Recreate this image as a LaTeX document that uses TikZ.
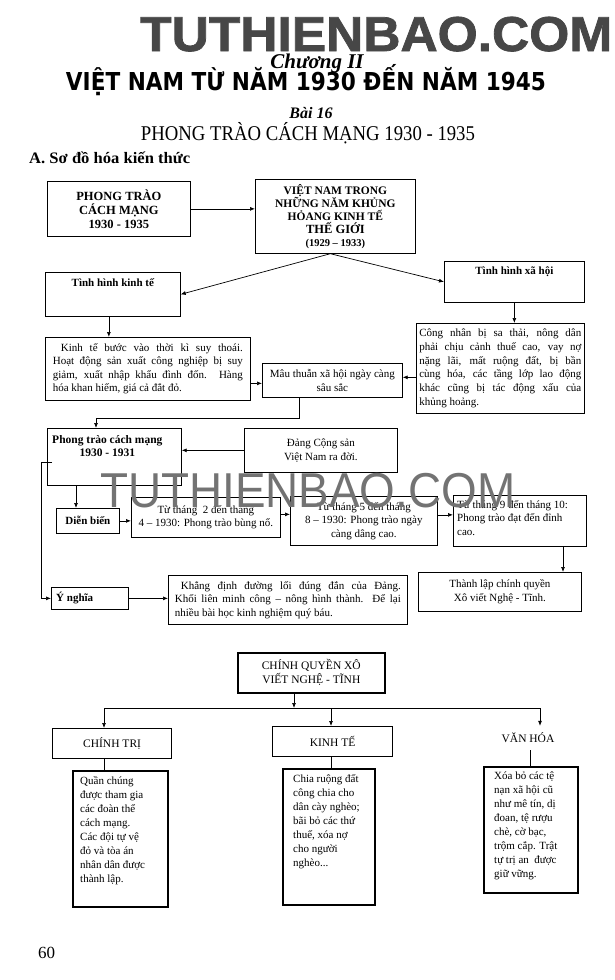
\documentclass[tikz,border=0pt]{standalone}
\usepackage{fontspec}
\setmainfont{Liberation Serif}
\newfontfamily\wmfont{Liberation Sans}[BoldFeatures={FakeBold=1.5}]
\newfontfamily\dispfont{DejaVu Sans}
\usetikzlibrary{arrows.meta,calc}
\newcommand\fitw[2]{\resizebox{#1}{\height}{#2}}
\newcommand\jl[2]{\makebox[#1][s]{#2}}
\begin{document}
\begin{tikzpicture}[x=1pt,y=-1pt,
 bx/.style={draw, line width=0.7pt, inner sep=0pt, anchor=north west, align=center, font=\fontsize{11}{13.5}\selectfont},
 tbx/.style={bx, line width=1.6pt},
 txt/.style={inner sep=0pt, font=\fontsize{11}{13.5}\selectfont},
 btxt/.style={inner sep=0pt, font=\bfseries\fontsize{11}{13.5}\selectfont},
 arr/.style={draw, line width=0.7pt, -{Latex[length=5pt,width=4pt]}},
 ln/.style={draw, line width=0.7pt},
 hd/.style={inner sep=0pt, anchor=base}
]
\useasboundingbox (0,0) rectangle (615,980);

% ---------- header ----------
\node[hd] (chuong) at (317,68) {\fontsize{21}{21}\selectfont\bfseries\itshape Chương II};
\node[hd, anchor=base west, text=black!72] (wm1) at (140,51) {\fitw{472pt}{\wmfont\bfseries\fontsize{49}{49}\selectfont TUTHIENBAO.COM}};
\node[hd] (title) at (306,90) {\fitw{480pt}{\dispfont\bfseries\fontsize{24.7}{25}\selectfont VIỆT NAM TỪ NĂM 1930 ĐẾN NĂM 1945}};
\node[hd] (bai) at (311,118) {\fontsize{16}{16}\selectfont\bfseries\itshape Bài 16};
\node[hd] (ptitle) at (308,140) {\fitw{334pt}{\fontsize{21}{21}\selectfont PHONG TRÀO CÁCH MẠNG 1930 - 1935}};
\node[hd, anchor=base west] (sec) at (29,163) {\fitw{161pt}{\fontsize{16}{16}\selectfont\bfseries A. Sơ đồ hóa kiến thức}};

% ---------- upper diagram ----------
\node[bx, minimum width=143, minimum height=55, font=\bfseries\fontsize{12.5}{14}\selectfont] (b1) at (47,181) {PHONG TRÀO\\CÁCH MẠNG\\1930 - 1935};
\node[bx, minimum width=160, minimum height=74, font=\bfseries\fontsize{11.5}{13}\selectfont] (b2) at (255,179) {VIỆT NAM TRONG\\NHỮNG NĂM KHỦNG\\HỎANG KINH TẾ\\{\fontsize{12.5}{13}\selectfont THẾ GIỚI}\\{\fontsize{10.5}{13}\selectfont (1929 – 1933)}};

\node[bx, minimum width=135, minimum height=44] (kt) at (45,272) {};
\node[btxt, anchor=north] (ktl) at ([yshift=-6]kt.north) {Tình hình kinh tế};
\node[bx, minimum width=140, minimum height=41] (xh) at (444,261) {};
\node[btxt, anchor=north] (xhl) at ([yshift=-6]xh.north) {Tình hình xã hội};

\node[bx, minimum width=205, minimum height=63, align=left] (ktb) at (45,337) {\hspace*{8pt}\jl{182pt}{Kinh tế bước vào thời kì suy thoái.}\\\jl{190pt}{Hoạt động sản xuất công nghiệp bị suy}\\\jl{190pt}{giảm, xuất nhập khẩu đình đốn. Hàng}\\hóa khan hiếm, giá cả đắt đỏ.};
\node[bx, minimum width=140, minimum height=34] (mt) at (262,363) {Mâu thuẫn xã hội ngày càng\\sâu sắc};
\node[bx, minimum width=168, minimum height=90, align=left, font=\fontsize{11}{13.7}\selectfont] (cn) at (416,323) {\jl{162pt}{Công nhân bị sa thải, nông dân}\\\jl{162pt}{phải chịu cảnh thuế cao, vay nợ}\\\jl{162pt}{nặng lãi, mất ruộng đất, bị bần}\\\jl{162pt}{cùng hóa, các tầng lớp lao động}\\\jl{162pt}{khác cũng bị tác động xấu của}\\khủng hoảng.};

\node[bx, minimum width=134, minimum height=57] (pt) at (47,428) {};
\node[btxt, anchor=north, align=center, font=\bfseries\fontsize{11.5}{13.5}\selectfont] (ptl) at ([xshift=-7,yshift=-7]pt.north) {Phong trào cách mạng\\1930 - 1931};
\node[bx, minimum width=153, minimum height=44] (dang) at (244,428) {Đảng Cộng sản\\Việt Nam ra đời.};
\node[bx, minimum width=63, minimum height=25, font=\bfseries\fontsize{11}{13}\selectfont] (db) at (56,508) {Diễn biến};
\node[bx, minimum width=149, minimum height=40] (t2) at (131,497) {Từ tháng \ 2 đến tháng\\4 – 1930: Phong trào bùng nổ.};
\node[bx, minimum width=147, minimum height=49] (t5) at (290,496) {Từ tháng 5 đến tháng\\8 – 1930: Phong trào ngày\\càng dâng cao.};
\node[bx, minimum width=133, minimum height=51] (t9) at (453,495) {};
\node[txt, anchor=north west, align=left] (t9l) at ([xshift=4,yshift=-5]t9.north west) {Từ tháng 9 đến tháng 10:\\Phong trào đạt đến đỉnh\\cao.};

\node[bx, minimum width=77, minimum height=22] (yn) at (51,587) {};
\node[btxt, anchor=west] (ynl) at ([xshift=5]yn.west) {Ý nghĩa};
\node[bx, minimum width=239, minimum height=49, align=left] (kd) at (168,575) {\hspace*{6pt}\jl{220pt}{Khẳng định đường lối đúng đắn của Đảng.}\\\jl{226pt}{Khối liên minh công – nông hình thành. Để lại}\\nhiều bài học kinh nghiệm quý báu.};
\node[bx, minimum width=163, minimum height=39] (tl) at (418,572) {Thành lập chính quyền\\Xô viết Nghệ - Tĩnh.};

% connectors upper
\draw[arr] (b1.east) -- (b1.east -| b2.west);
\draw[arr] ([xshift=-5]b2.south) -- (kt.east);
\draw[arr] ([xshift=-5]b2.south) -- (xh.west);
\draw[arr] ([xshift=-4]kt.south) -- ([xshift=-4]kt.south |- ktb.north);
\draw[arr] (xh.south) -- (xh.south |- cn.north);
\draw[arr] ([yshift=-3]mt.west -| ktb.east) -- ([yshift=-3]mt.west);
\draw[arr] ([yshift=3]mt.east -| cn.west) -- ([yshift=3]mt.east);
\coordinate (j1) at (299,418);
\coordinate (j2) at (96,418);
\draw[arr] (mt.south -| j1) -- (j1) -- (j2) -- (j2 |- pt.north);
\draw[arr] (dang.west) -- (dang.west -| pt.east);
\coordinate (c1) at (76,495);
\draw[arr] (c1 |- pt.south) -- (c1 |- db.north);
\draw[arr] (db.east) -- (db.east -| t2.west);
\draw[arr] ([yshift=3]t2.east) -- ([yshift=3]t2.east -| t5.west);
\draw[arr] ([yshift=6]t5.east) -- ([yshift=6]t5.east -| t9.west);
\coordinate (c2) at (563,560);
\draw[arr] (c2 |- t9.south) -- (c2 |- tl.north);
\coordinate (c3s) at (52,462);
\coordinate (c3) at (41,462);
\draw[arr] (c3s) -- (c3) -- (c3 |- yn.west) -- (yn.west);
\draw[arr] (yn.east) -- (yn.east -| kd.west);

% ---------- lower diagram ----------
\node[tbx, minimum width=147, minimum height=40, font=\fontsize{11.5}{14}\selectfont] (cq) at (237,652) {CHÍNH QUYỀN XÔ\\VIẾT NGHỆ - TĨNH};
\node[bx, line width=1.2pt, minimum width=119, minimum height=30, font=\fontsize{11.5}{13}\selectfont] (ct) at (52,728) {CHÍNH TRỊ};
\node[bx, line width=1.2pt, minimum width=120, minimum height=30, font=\fontsize{11.5}{13}\selectfont] (ke) at (272,726) {KINH TẾ};
\node[inner sep=0pt, minimum height=24, font=\fontsize{11.5}{13}\selectfont] (vh) at (528,738) {VĂN HÓA};

\node[tbx, minimum width=95, minimum height=136] (cb1) at (72,770) {};
\node[txt, anchor=north west, align=left, font=\fontsize{11}{14}\selectfont] (cb1l) at ([xshift=8,yshift=-6]cb1.north west) {Quần chúng\\được tham gia\\các đoàn thể\\cách mạng.\\Các đội tự vệ\\đỏ và tòa án\\nhân dân được\\thành lập.};
\node[tbx, minimum width=92, minimum height=136] (cb2) at (282,768) {};
\node[txt, anchor=north west, align=left, font=\fontsize{11}{14}\selectfont] (cb2l) at ([xshift=11,yshift=-6]cb2.north west) {Chia ruộng đất\\công chia cho\\dân cày nghèo;\\bãi bỏ các thứ\\thuế, xóa nợ\\cho người\\nghèo...};
\node[tbx, minimum width=94, minimum height=126] (cb3) at (483,766) {};
\node[txt, anchor=north west, align=left, font=\fontsize{11}{14}\selectfont] (cb3l) at ([xshift=11,yshift=-6]cb3.north west) {Xóa bỏ các tệ\\nạn xã hội cũ\\như mê tín, dị\\đoan, tệ rượu\\chè, cờ bạc,\\trộm cắp. Trật\\tự trị an \ được\\giữ vững.};

\coordinate (h0) at (294,708);
\coordinate (hl) at (104,708);
\coordinate (hm) at (331,708);
\coordinate (hr) at (540,708);
\draw[arr] (h0 |- cq.south) -- (h0);
\draw[ln] (hl) -- (hr);
\draw[arr] (hl) -- (hl |- ct.north);
\draw[arr] (hm) -- (hm |- ke.north);
\draw[arr] (hr) -- (hr |- vh.north);
\draw[ln] (hl |- ct.south) -- (hl |- cb1.north);
\draw[ln] (hm |- ke.south) -- (hm |- cb2.north);
\draw[ln] (vh.south -| cb3.north) -- (cb3.north);

\node[hd, anchor=base west, font=\fontsize{17}{17}\selectfont] (pg) at (38,958) {60};

% ---------- watermark ----------
\node[hd, anchor=base west, text=black!55] (wm2) at (100,507) {\fitw{415pt}{\wmfont\fontsize{49}{49}\selectfont TUTHIENBAO.COM}};
\end{tikzpicture}
\end{document}
